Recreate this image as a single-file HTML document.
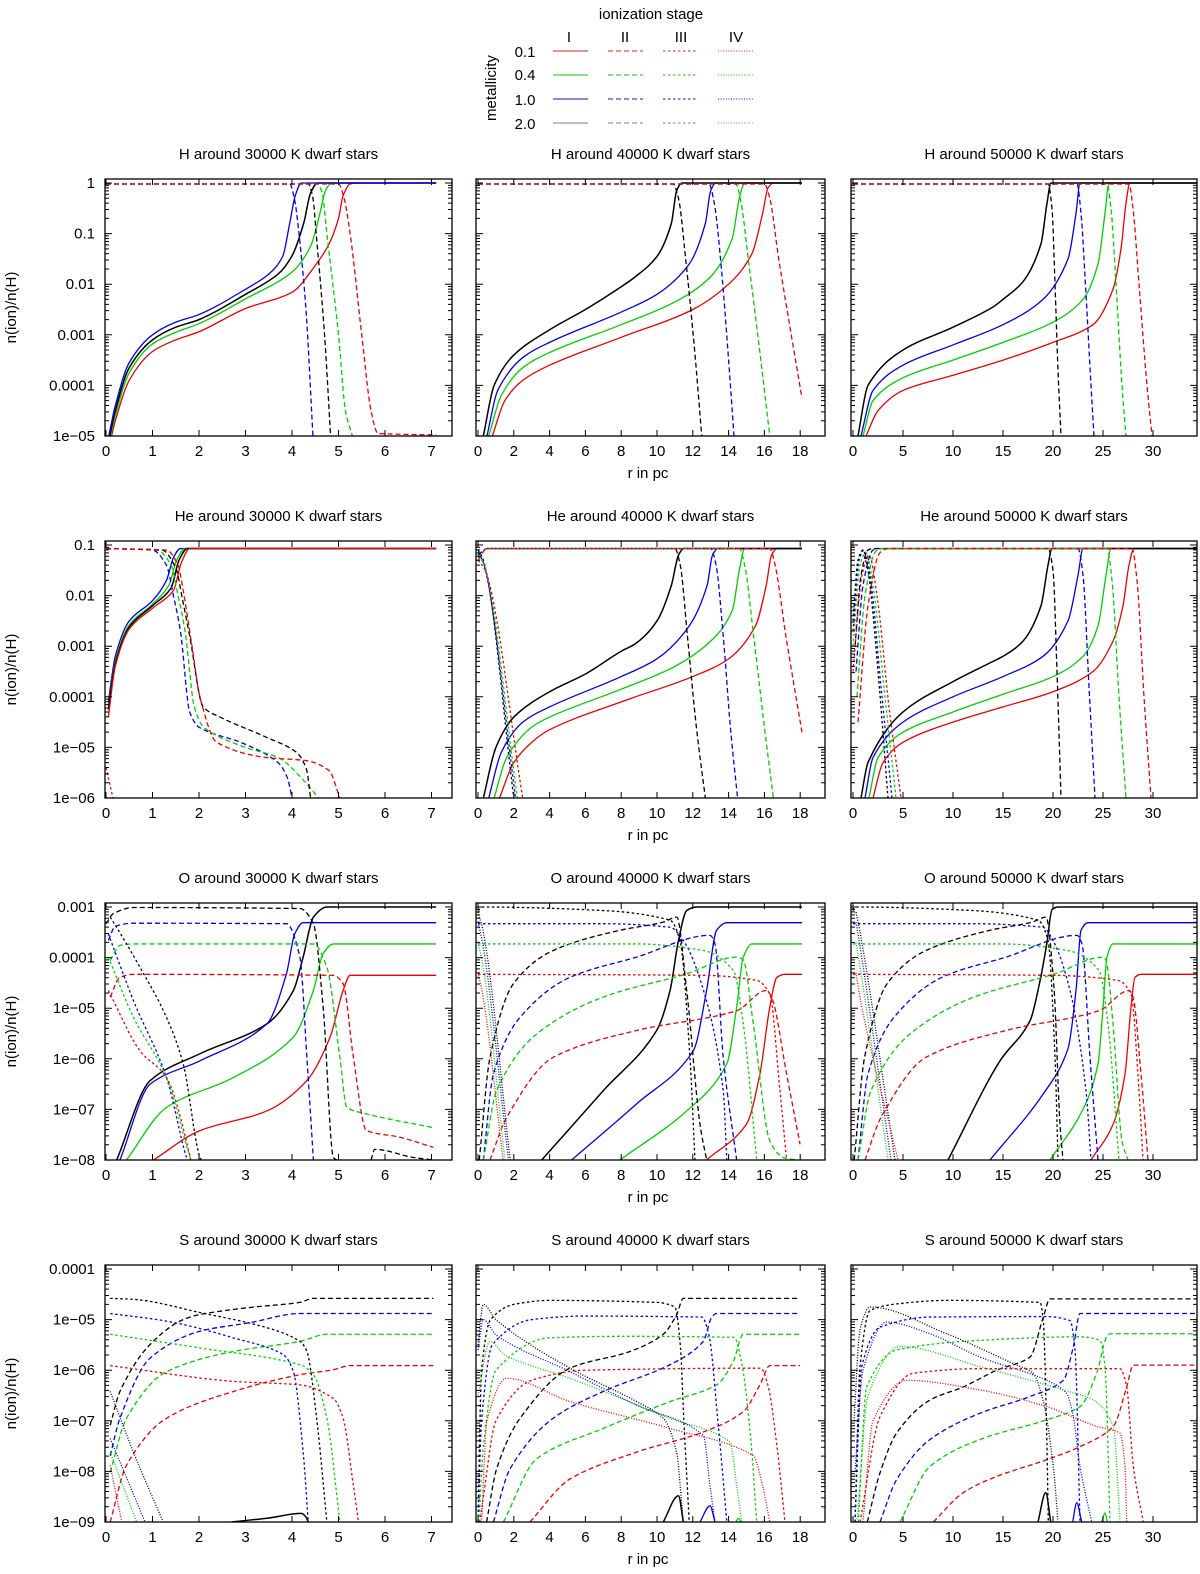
<!DOCTYPE html>
<html><head><meta charset="utf-8">
<style>
html,body{margin:0;padding:0;background:#fff;}
svg{display:block;font-family:"Liberation Sans",sans-serif;}
</style></head>
<body>
<svg id="fig" width="1200" height="1574" viewBox="0 0 1200 1574" xmlns="http://www.w3.org/2000/svg">
<g font-size="15" fill="#000">
  <text x="651" y="19" text-anchor="middle">ionization stage</text>
  <text x="569" y="42" text-anchor="middle">I</text>
  <text x="625" y="42" text-anchor="middle">II</text>
  <text x="681" y="42" text-anchor="middle">III</text>
  <text x="736" y="42" text-anchor="middle">IV</text>
  <text x="496" y="88" text-anchor="middle" transform="rotate(-90 496 88)">metallicity</text>
  <text x="525" y="57" text-anchor="middle">0.1</text>
  <text x="525" y="80" text-anchor="middle">0.4</text>
  <text x="525" y="105" text-anchor="middle">1.0</text>
  <text x="525" y="129" text-anchor="middle">2.0</text>
  <g id="legendLines"></g>
</g>
<g id="panels"></g>
</svg>
<script>
// ---------- data: series = [metallicityIndex(0:0.1,1:0.4,2:1.0,3:2.0), stage(1..4), [[r, log10 n]...]]
const H30 = [
 [0,1,[[0.12,-5],[0.2,-4.7],[0.5,-3.9],[1,-3.33],[1.5,-3.1],[2,-2.94],[3,-2.48],[4,-2.16],[4.5,-1.63],[4.8,-1.2],[5.0,-0.7],[5.1,-0.25],[5.25,-0.02],[5.4,0],[7.1,0]]],
 [1,1,[[0.1,-5],[0.2,-4.6],[0.5,-3.75],[1,-3.18],[1.5,-2.95],[2,-2.78],[3,-2.29],[4,-1.76],[4.4,-1.25],[4.6,-0.6],[4.72,-0.15],[4.85,0],[7.1,0]]],
 [3,1,[[0.08,-5],[0.2,-4.5],[0.5,-3.65],[1,-3.1],[1.5,-2.85],[2,-2.7],[3,-2.2],[3.7,-1.8],[4.0,-1.44],[4.25,-0.8],[4.4,-0.2],[4.55,0],[7.1,0]]],
 [2,1,[[0.06,-5],[0.2,-4.4],[0.5,-3.55],[1,-3.0],[1.5,-2.75],[2,-2.6],[3,-2.1],[3.5,-1.8],[3.8,-1.45],[3.95,-0.8],[4.07,-0.25],[4.2,0],[7.1,0]]],
 [2,2,[[0,-0.02],[3.95,-0.02],[4.05,-0.3],[4.15,-1.0],[4.3,-2.5],[4.45,-5]]],
 [3,2,[[0,-0.02],[4.35,-0.02],[4.45,-0.3],[4.52,-1],[4.7,-3],[4.83,-5]]],
 [1,2,[[0,-0.02],[4.55,-0.02],[4.65,-0.2],[4.75,-1],[5.0,-3],[5.15,-4.5],[5.3,-5]]],
 [0,2,[[0,-0.02],[5.0,-0.02],[5.12,-0.3],[5.25,-1],[5.5,-3],[5.7,-4.5],[5.85,-4.95],[7.1,-4.98]]]
];
const H40 = [
 [0,1,[[0.8,-5],[1.5,-4.3],[2.5,-3.9],[4,-3.6],[8,-3.05],[12,-2.5],[14,-2.0],[15.3,-1.4],[15.9,-0.6],[16.2,-0.1],[16.5,0],[18.1,0]]],
 [1,1,[[0.6,-5],[1.3,-4.2],[2.5,-3.65],[4,-3.35],[8,-2.8],[11,-2.35],[13,-1.85],[14.2,-1.1],[14.6,-0.3],[14.9,0],[18.1,0]]],
 [2,1,[[0.5,-5],[1.1,-4.1],[2.5,-3.45],[4,-3.15],[8,-2.55],[10,-2.2],[11.8,-1.6],[12.7,-0.8],[13.0,-0.15],[13.3,0],[18.1,0]]],
 [3,1,[[0.3,-5],[0.9,-4.0],[2,-3.4],[4,-2.9],[6,-2.5],[8,-2.05],[8.8,-1.85],[10,-1.45],[10.8,-0.8],[11.1,-0.15],[11.4,0],[18.1,0]]],
 [3,2,[[0,-0.02],[10.9,-0.02],[11.2,-0.3],[11.6,-1.5],[12.1,-3.3],[12.5,-5]]],
 [2,2,[[0,-0.02],[12.9,-0.02],[13.2,-0.4],[13.6,-1.7],[14.0,-3.5],[14.3,-5]]],
 [1,2,[[0,-0.02],[14.4,-0.02],[14.7,-0.4],[15.1,-1.5],[15.7,-3.2],[16.3,-5]]],
 [0,2,[[0,-0.02],[16.0,-0.02],[16.3,-0.3],[16.8,-1.5],[17.5,-3],[18.1,-4.25]]]
];
const H50 = [
 [0,1,[[1.3,-5],[2.5,-4.5],[5,-4.1],[10,-3.8],[15,-3.5],[20,-3.15],[24,-2.8],[26,-2.1],[26.8,-1.3],[27.3,-0.4],[27.7,0],[34.4,0]]],
 [1,1,[[1,-5],[2,-4.3],[5,-3.85],[10,-3.5],[15,-3.15],[20,-2.75],[23,-2.3],[24.5,-1.6],[25.2,-0.6],[25.6,0],[34.4,0]]],
 [2,1,[[0.8,-5],[2,-4.1],[5,-3.6],[10,-3.2],[15,-2.8],[19,-2.3],[21.5,-1.5],[22.3,-0.6],[22.7,0],[34.4,0]]],
 [3,1,[[0.5,-5],[1.5,-4.0],[5,-3.3],[10,-2.85],[14,-2.45],[15,-2.3],[17,-1.95],[18.8,-1.2],[19.4,-0.4],[19.8,0],[34.4,0]]],
 [3,2,[[0,-0.02],[19.5,-0.02],[19.9,-0.5],[20.2,-2],[20.5,-3.7],[20.8,-5]]],
 [2,2,[[0,-0.02],[22.4,-0.02],[22.8,-0.6],[23.3,-2.2],[23.8,-4],[24.1,-5]]],
 [1,2,[[0,-0.02],[25.4,-0.02],[25.8,-0.5],[26.3,-2],[26.9,-4],[27.3,-5]]],
 [0,2,[[0,-0.02],[27.6,-0.02],[28,-0.5],[28.6,-2],[29.4,-4],[29.9,-5]]]
];
const HE30 = [
 [2,1,[[0.05,-4.1],[0.2,-3.2],[0.5,-2.5],[1.0,-2.1],[1.3,-1.7],[1.45,-1.25],[1.6,-1.07],[7.1,-1.07]]],
 [1,1,[[0.05,-4.2],[0.2,-3.3],[0.5,-2.58],[1.0,-2.17],[1.35,-1.8],[1.52,-1.3],[1.7,-1.07],[7.1,-1.07]]],
 [3,1,[[0.05,-4.25],[0.2,-3.35],[0.5,-2.62],[1.0,-2.2],[1.4,-1.85],[1.57,-1.3],[1.75,-1.07],[7.1,-1.07]]],
 [0,1,[[0.05,-4.4],[0.2,-3.4],[0.5,-2.66],[1.0,-2.25],[1.45,-1.9],[1.62,-1.35],[1.8,-1.07],[7.1,-1.07]]],
 [2,2,[[0,-1.07],[1.0,-1.1],[1.3,-1.4],[1.45,-2.0],[1.6,-2.7],[1.8,-4.3],[2.0,-4.6],[2.95,-4.92],[3.7,-5.3],[3.9,-5.6],[4.0,-6]]],
 [1,2,[[0,-1.07],[1.1,-1.1],[1.4,-1.4],[1.55,-2.0],[1.7,-2.7],[1.9,-4.2],[2.1,-4.6],[3.0,-5.0],[3.7,-5.2],[4.3,-5.7],[4.57,-6]]],
 [3,2,[[0,-1.07],[1.2,-1.1],[1.5,-1.45],[1.65,-2.1],[1.8,-2.8],[2.09,-4.2],[2.45,-4.4],[3.45,-4.8],[4.1,-5.1],[4.31,-5.43],[4.4,-6]]],
 [0,2,[[0,-1.07],[1.3,-1.1],[1.55,-1.4],[1.66,-1.9],[1.85,-3.0],[2.02,-4.0],[2.38,-4.9],[3.45,-5.2],[4.3,-5.26],[4.8,-5.46],[5.03,-6]]],
 [0,3,[[0,-5.4],[0.15,-6]]]
];
const HE40 = [
 [0,1,[[1.2,-6],[2,-5.3],[3,-4.9],[4,-4.65],[8,-4.1],[12,-3.6],[14,-3.25],[15.5,-2.6],[16.1,-1.8],[16.4,-1.2],[16.7,-1.07],[18.1,-1.07]]],
 [1,1,[[0.9,-6],[1.6,-5.2],[3,-4.6],[4,-4.4],[8,-3.85],[11,-3.4],[13,-2.9],[14.2,-2.3],[14.6,-1.5],[14.9,-1.07],[18.1,-1.07]]],
 [2,1,[[0.6,-6],[1.3,-5.1],[2.5,-4.5],[4,-4.2],[8,-3.6],[10,-3.25],[11.8,-2.6],[12.8,-1.8],[13.1,-1.2],[13.4,-1.07],[18.1,-1.07]]],
 [3,1,[[0.3,-6],[1,-5],[2,-4.4],[4,-3.9],[6,-3.55],[8,-3.1],[8.8,-2.95],[10,-2.5],[10.8,-1.8],[11.2,-1.2],[11.5,-1.07],[18.1,-1.07]]],
 [3,2,[[0,-1.2],[0.5,-1.07],[11,-1.07],[11.3,-1.4],[11.7,-2.8],[12.2,-4.6],[12.7,-6]]],
 [2,2,[[0,-1.2],[0.5,-1.07],[13,-1.07],[13.3,-1.4],[13.7,-2.8],[14.1,-4.6],[14.5,-6]]],
 [1,2,[[0,-1.25],[0.5,-1.07],[14.6,-1.07],[14.9,-1.4],[15.4,-2.8],[16.0,-4.6],[16.5,-6]]],
 [0,2,[[0,-1.3],[0.5,-1.07],[16.3,-1.07],[16.6,-1.4],[17.2,-2.8],[18.1,-4.7]]],
 [3,3,[[0,-1.1],[0.3,-1.3],[2.0,-6]]],
 [2,3,[[0,-1.15],[0.3,-1.35],[2.1,-6]]],
 [1,3,[[0,-1.2],[0.35,-1.4],[2.2,-6]]],
 [0,3,[[0,-1.3],[0.4,-1.5],[2.5,-6]]]
];
const HE50 = [
 [0,1,[[2,-6],[3,-5.3],[5,-4.9],[10,-4.5],[15,-4.2],[20,-3.9],[24,-3.5],[26,-2.9],[27,-2.2],[27.6,-1.4],[28.1,-1.07],[34.4,-1.07]]],
 [1,1,[[1.6,-6],[2.5,-5.2],[5,-4.7],[10,-4.3],[15,-3.95],[20,-3.6],[23,-3.2],[24.5,-2.6],[25.3,-1.6],[25.8,-1.07],[34.4,-1.07]]],
 [2,1,[[1.2,-6],[2,-5.2],[5,-4.5],[10,-4.0],[15,-3.6],[19,-3.2],[21.5,-2.5],[22.5,-1.6],[23,-1.07],[34.4,-1.07]]],
 [3,1,[[0.8,-6],[1.5,-5.3],[5,-4.3],[10,-3.7],[14,-3.3],[15,-3.2],[17,-2.9],[18.8,-2.2],[19.5,-1.4],[19.9,-1.07],[34.4,-1.07]]],
 [3,2,[[0.2,-3],[0.8,-1.6],[1.5,-1.1],[2,-1.07],[19.5,-1.07],[20,-1.5],[20.4,-3.5],[20.8,-6]]],
 [2,2,[[0.3,-3.5],[1,-1.8],[2,-1.1],[2.5,-1.07],[22.5,-1.07],[23,-1.6],[23.6,-3.8],[24.2,-6]]],
 [1,2,[[0.4,-4],[1.2,-2],[2.3,-1.12],[3,-1.07],[25.4,-1.07],[25.9,-1.7],[26.6,-4],[27.3,-6]]],
 [0,2,[[0.5,-4.5],[1.5,-2.2],[2.7,-1.15],[3.5,-1.07],[27.9,-1.07],[28.4,-1.7],[29.1,-4],[29.8,-6]]],
 [3,3,[[0,-2.5],[0.5,-1.3],[1,-1.1],[1.5,-1.5],[2.5,-3.5],[3.5,-6]]],
 [2,3,[[0,-2.7],[0.6,-1.3],[1.1,-1.1],[1.7,-1.6],[2.8,-3.8],[3.9,-6]]],
 [1,3,[[0,-3],[0.7,-1.4],[1.3,-1.15],[2,-1.8],[3.2,-4],[4.3,-6]]],
 [0,3,[[0,-3.5],[0.9,-1.6],[1.6,-1.2],[2.4,-2],[3.6,-4.2],[4.8,-6]]]
];
const O30 = [
 [3,1,[[0.23,-8],[0.95,-6.43],[2.02,-5.9],[3.46,-5.31],[4.03,-4.65],[4.24,-3.99],[4.46,-3.2],[4.75,-3.0],[7.1,-3.0]]],
 [2,1,[[0.3,-8],[0.95,-6.5],[2.02,-6.04],[3.46,-5.31],[3.88,-4.32],[4.06,-3.53],[4.24,-3.31],[7.1,-3.31]]],
 [1,1,[[0.44,-8],[1.3,-6.96],[2.74,-6.37],[4.03,-5.57],[4.46,-4.65],[4.67,-3.92],[4.89,-3.73],[7.1,-3.73]]],
 [0,1,[[1.02,-8],[2.02,-7.42],[3.46,-7.03],[4.32,-6.43],[4.82,-5.57],[5.1,-4.65],[5.25,-4.35],[7.1,-4.35]]],
 [3,2,[[0,-3.33],[0.16,-3.13],[0.59,-3.01],[4.17,-3.03],[4.46,-3.33],[4.67,-4.98],[4.89,-7.95],[4.96,-8]]],
 [3,2,[[5.7,-8],[5.78,-7.79],[6.61,-7.95],[7.04,-8]]],
 [2,2,[[0.05,-3.66],[0.2,-3.38],[0.59,-3.32],[3.88,-3.33],[4.17,-3.99],[4.32,-5.97],[4.46,-8]]],
 [1,2,[[0.09,-4.06],[0.3,-3.76],[0.59,-3.73],[4.46,-3.73],[4.75,-4.19],[5.03,-5.97],[5.18,-6.96],[5.6,-7.09],[7.04,-7.36]]],
 [0,2,[[0.09,-4.78],[0.3,-4.39],[0.59,-4.33],[4.89,-4.35],[5.1,-4.52],[5.32,-5.97],[5.6,-7.42],[6.32,-7.55],[7.04,-7.75]]],
 [3,3,[[0.09,-3.2],[0.16,-3.3],[0.73,-4.19],[1.3,-5.18],[1.66,-6.1],[2.02,-7.95],[2.05,-8]]],
 [2,3,[[0.05,-3.53],[0.59,-4.85],[1.3,-6.37],[1.73,-7.95],[1.75,-8]]],
 [1,3,[[0.05,-3.99],[0.59,-5.18],[1.3,-6.37],[1.81,-7.95],[1.83,-8]]],
 [0,3,[[0.05,-4.65],[0.73,-5.84],[1.3,-6.37],[1.8,-7.9],[1.82,-8]]]
];
const O40 = [
 [3,1,[[3.56,-8],[7.0,-6.63],[9.98,-5.44],[10.73,-4.65],[11.2,-3.66],[11.66,-3.07],[12.2,-3],[18.1,-3]]],
 [2,1,[[5.23,-8],[8.86,-6.89],[12.03,-5.84],[12.77,-4.65],[13.33,-3.46],[13.9,-3.31],[18.1,-3.31]]],
 [1,1,[[7.93,-8],[11.66,-7.03],[13.9,-6.1],[14.45,-4.98],[14.82,-3.99],[15.3,-3.73],[18.1,-3.73]]],
 [0,1,[[12.77,-8],[15.0,-7.29],[15.75,-6.3],[16.3,-4.98],[16.7,-4.39],[17.15,-4.33],[18.1,-4.33]]],
 [3,2,[[0.07,-8],[0.67,-5.97],[1.97,-4.52],[4.2,-3.86],[7.93,-3.46],[10.35,-3.3],[11.1,-3.2],[11.66,-4.65],[12.4,-7.29],[12.77,-8]]],
 [2,2,[[0.3,-8],[0.86,-6.3],[2.35,-5.18],[5.14,-4.39],[8.86,-3.99],[12.96,-3.56],[13.24,-3.73],[13.7,-5.97],[14.45,-8]]],
 [1,2,[[0.3,-8],[1.04,-6.63],[3.28,-5.51],[7.0,-4.78],[11.66,-4.32],[14.45,-3.99],[14.82,-4.05],[15.38,-5.31],[16.3,-7.62],[17.05,-7.95],[17.8,-8]]],
 [0,2,[[0.67,-8],[1.6,-7.16],[4.2,-5.97],[8.86,-5.44],[14.45,-5.05],[16.1,-4.65],[16.4,-4.78],[17.24,-6.3],[17.99,-7.69]]],
 [3,3,[[0,-3.07],[0.3,-3.0],[7.0,-3.07],[10.73,-3.26],[11.28,-3.66],[11.84,-5.97],[12.12,-8]]],
 [2,3,[[0,-3.33],[7.0,-3.33],[10.73,-3.4],[11.47,-3.66],[12.6,-4.65],[13.7,-6.63],[13.9,-8]]],
 [1,3,[[0,-3.73],[8.86,-3.73],[12.6,-3.86],[14.26,-4.25],[14.82,-5.31],[15.57,-8]]],
 [0,3,[[0,-4.33],[12.6,-4.35],[15.57,-4.45],[16.3,-4.72],[16.87,-6.63],[17.24,-8]]],
 [3,4,[[0,-3.1],[0.3,-3.5],[1.8,-8]]],
 [2,4,[[0,-3.3],[0.3,-3.8],[1.7,-8]]],
 [1,4,[[0,-3.7],[0.3,-4.2],[1.5,-8]]],
 [0,4,[[0,-4.3],[0.3,-4.8],[1.4,-8]]]
];
const O50 = [
 [3,1,[[9.5,-8],[14.7,-6.04],[17.7,-5.25],[18.7,-4.46],[19.4,-3.7],[19.9,-3.05],[20.5,-3],[34.4,-3]]],
 [2,1,[[13.7,-8],[19,-6.7],[21.5,-5.8],[22.3,-4.65],[22.8,-3.46],[23.5,-3.31],[34.4,-3.31]]],
 [1,1,[[19.7,-8],[23,-7],[24.5,-6.1],[25,-5],[25.4,-3.99],[26,-3.73],[34.4,-3.73]]],
 [0,1,[[23.8,-8],[26,-7.3],[27.2,-6.3],[27.8,-4.98],[28.2,-4.39],[28.8,-4.33],[34.4,-4.33]]],
 [3,2,[[0.12,-8],[1.16,-5.97],[3.4,-4.52],[7.3,-3.86],[13.7,-3.46],[17.9,-3.3],[19.3,-3.2],[20.1,-4.6],[20.7,-7.3],[21.0,-8]]],
 [2,2,[[0.5,-8],[1.5,-6.3],[4.1,-5.18],[8.9,-4.39],[15.3,-3.99],[22.4,-3.56],[22.9,-3.73],[23.7,-5.97],[24.5,-8]]],
 [1,2,[[0.5,-8],[1.8,-6.63],[5.7,-5.51],[12.1,-4.78],[20.2,-4.32],[25.0,-3.99],[25.3,-4.05],[26.0,-5.31],[26.9,-7.62],[27.5,-8]]],
 [0,2,[[1.2,-8],[2.8,-7.16],[7.3,-5.97],[15.3,-5.44],[24.6,-5.05],[27.6,-4.65],[28.0,-4.78],[28.8,-6.3],[29.5,-8]]],
 [3,3,[[0,-3.07],[0.3,-3.0],[12,-3.07],[18.5,-3.26],[19.5,-3.66],[20.2,-5.97],[20.5,-8]]],
 [2,3,[[0,-3.33],[12,-3.33],[19,-3.4],[20,-3.66],[21.7,-4.65],[23.3,-6.63],[23.8,-8]]],
 [1,3,[[0,-3.73],[15,-3.73],[21.5,-3.86],[24.6,-4.25],[25.5,-5.31],[26.6,-8]]],
 [0,3,[[0,-4.33],[20,-4.35],[26.5,-4.45],[27.8,-4.72],[28.6,-6.63],[29.0,-8]]],
 [3,4,[[0.3,-3.1],[0.8,-3.6],[4.2,-8]]],
 [2,4,[[0.3,-3.3],[0.8,-3.9],[3.8,-8]]],
 [1,4,[[0.3,-3.7],[0.8,-4.3],[3.5,-8]]],
 [0,4,[[0.3,-4.3],[0.8,-4.9],[4.5,-8]]]
];
const S30 = [
 [3,2,[[0.09,-7.09],[0.3,-6.42],[0.95,-5.49],[1.66,-5.0],[2.02,-4.9],[3.1,-4.76],[4.17,-4.66],[4.46,-4.58],[7.04,-4.58]]],
 [2,2,[[0.09,-7.69],[0.3,-6.95],[0.95,-5.76],[2.02,-5.23],[3.1,-5.06],[4.17,-4.88],[7.04,-4.88]]],
 [1,2,[[0.09,-8.02],[0.44,-6.95],[1.3,-6.03],[2.74,-5.63],[4.17,-5.43],[4.75,-5.29],[7.04,-5.29]]],
 [0,2,[[0.09,-9],[0.44,-7.88],[1.3,-6.95],[2.74,-6.42],[4.17,-6.09],[4.89,-5.99],[5.25,-5.91],[7.04,-5.91]]],
 [3,3,[[0.09,-4.58],[0.6,-4.6],[2.02,-4.86],[3.46,-5.16],[4.17,-5.43],[4.32,-5.63],[4.53,-6.95],[4.75,-9]]],
 [2,3,[[0.09,-4.88],[1.3,-5.03],[2.74,-5.36],[3.81,-5.69],[4.03,-6.03],[4.24,-7.62],[4.35,-9]]],
 [1,3,[[0.09,-5.29],[2.02,-5.56],[4.17,-5.89],[4.46,-6.09],[4.75,-6.95],[5.03,-9]]],
 [0,3,[[0.09,-5.91],[2.74,-6.22],[4.17,-6.29],[4.89,-6.56],[5.1,-6.95],[5.32,-8.28],[5.43,-9]]],
 [3,4,[[0.09,-6.42],[0.59,-7.62],[1.23,-9]]],
 [2,4,[[0.09,-7.35],[0.84,-9]]],
 [1,4,[[0.09,-7.62],[0.66,-9]]],
 [0,4,[[0.09,-7.88],[0.34,-9]]],
 [3,1,[[2.7,-9],[3.5,-8.92],[4.2,-8.83],[4.3,-8.9],[4.35,-9]]]
];
const S40 = [
 [3,2,[[0.48,-9],[1.04,-7.95],[2.35,-6.95],[5.14,-5.96],[8.49,-5.63],[10.35,-5.29],[11.1,-4.9],[11.47,-4.58],[17.99,-4.58]]],
 [2,2,[[0.86,-9],[1.79,-7.95],[4.2,-6.95],[7.0,-6.42],[10.73,-5.89],[12.59,-5.43],[13.05,-4.96],[13.33,-4.88],[17.99,-4.88]]],
 [1,2,[[1.42,-9],[3.28,-7.75],[7.0,-7.15],[10.73,-6.62],[13.33,-6.29],[14.26,-5.83],[14.82,-5.29],[17.99,-5.29]]],
 [0,2,[[2.9,-9],[5.14,-8.15],[8.86,-7.62],[12.59,-7.22],[14.82,-6.82],[15.75,-6.29],[16.31,-5.91],[17.99,-5.91]]],
 [3,3,[[0,-9],[0.2,-6],[0.7,-5],[2,-4.7],[4,-4.62],[10,-4.66],[11,-4.75],[11.3,-5.5],[11.5,-7],[11.8,-9]]],
 [2,3,[[0,-9],[0.2,-7],[0.8,-5.5],[3,-5.0],[6,-4.93],[12.5,-4.95],[12.9,-5.3],[13.4,-7],[13.9,-9]]],
 [1,3,[[0.05,-9],[0.3,-7.5],[1,-6],[4,-5.36],[8,-5.33],[14.3,-5.35],[14.7,-5.8],[15.2,-7.2],[15.57,-9]]],
 [0,3,[[0.1,-9],[0.3,-8.5],[1,-7],[3,-6.2],[6,-6],[15.8,-5.96],[16.2,-6.3],[16.7,-7.5],[17.15,-9]]],
 [3,4,[[0,-5.5],[0.3,-4.7],[1,-5.0],[5.14,-5.96],[8.86,-6.62],[10.35,-6.95],[11.1,-7.62],[11.3,-8.3],[11.47,-9]]],
 [2,4,[[0,-5.6],[0.3,-5.0],[1,-5.3],[5.14,-6.03],[8.86,-6.69],[12.59,-7.29],[12.96,-8.28],[13.24,-9]]],
 [1,4,[[0,-6.5],[0.67,-5.43],[1.5,-5.7],[5.14,-6.16],[10.73,-6.95],[14.08,-7.42],[14.45,-8.28],[14.73,-9]]],
 [0,4,[[0.2,-9],[0.5,-7],[1.6,-6.16],[5.14,-6.62],[10.73,-7.15],[15.38,-7.69],[15.9,-8.28],[16.3,-9]]],
 [3,1,[[10.35,-9],[11.2,-8.48],[11.47,-9]]],
 [2,1,[[12.4,-9],[12.96,-8.68],[13.24,-9]]],
 [1,1,[[14.4,-9],[14.55,-8.93],[14.7,-9]]]
];
const S50 = [
 [3,2,[[1.43,-9],[2.7,-8.03],[4.37,-7.24],[7.7,-6.59],[11.03,-6.33],[14.37,-6.0],[17.7,-5.74],[19.03,-4.95],[19.7,-4.59],[34.4,-4.59]]],
 [2,2,[[2.7,-9],[4.37,-8.16],[7.7,-7.37],[12.7,-6.85],[17.7,-6.52],[21.03,-6.2],[22.03,-5.54],[22.7,-4.88],[34.4,-4.88]]],
 [1,2,[[4.7,-9],[7.7,-7.9],[12.7,-7.37],[19.37,-6.98],[22.7,-6.72],[24.37,-6.06],[25.37,-5.34],[25.7,-5.28],[34.4,-5.28]]],
 [0,2,[[8.03,-9],[11.03,-8.42],[14.37,-8.1],[19.37,-7.77],[22.7,-7.51],[26.03,-7.11],[27.37,-6.33],[28.03,-5.9],[34.4,-5.9]]],
 [3,3,[[0.2,-9],[0.7,-5.93],[1.7,-4.82],[4.37,-4.69],[9.37,-4.62],[18.7,-4.66],[19.03,-5.02],[19.37,-7.24],[19.53,-9]]],
 [3,4,[[0.1,-7],[0.7,-5.2],[1.7,-4.75],[9.37,-5.28],[16,-5.87],[18,-6.06],[19,-6.59],[20.03,-7.9],[20.5,-9]]],
 [2,3,[[0.2,-9],[0.87,-5.93],[2.7,-5.15],[7.7,-4.95],[19.37,-4.94],[21.7,-5.02],[22.2,-5.6],[22.7,-9]]],
 [2,4,[[0.2,-8],[1,-6],[3.37,-5.05],[7.7,-5.28],[12.7,-5.74],[19.37,-6.2],[21.37,-6.46],[22.03,-6.92],[22.7,-7.9],[23.87,-9]]],
 [1,3,[[0.53,-9],[1.37,-6.33],[4.37,-5.6],[12.7,-5.41],[22.7,-5.34],[24.7,-5.41],[25.2,-5.93],[25.7,-9]]],
 [1,4,[[0.4,-9],[1.5,-6.5],[4.7,-5.53],[12.7,-5.93],[21.03,-6.39],[24.03,-6.59],[26.03,-7.11],[26.7,-9]]],
 [0,3,[[0.7,-9],[2.7,-6.92],[6.03,-6.06],[12.7,-5.97],[26.7,-5.97],[27.37,-6.33],[28.03,-7.9],[29.03,-9]]],
 [0,4,[[1,-9],[2,-7],[5.37,-6.2],[12.7,-6.39],[19.37,-6.72],[24.37,-7.11],[26.7,-7.24],[27.2,-7.9],[27.37,-9]]],
 [3,1,[[18.5,-9],[19.27,-8.42],[19.77,-9]]],
 [2,1,[[21.97,-9],[22.37,-8.62],[22.87,-9]]],
 [1,1,[[24.87,-9],[25.2,-8.82],[25.43,-9]]]
];

// ---------- axes / labels
const xTicks0 = [0,1,2,3,4,5,6,7];
const xTicks1 = [0,2,4,6,8,10,12,14,16,18];
const xTicks2 = [0,5,10,15,20,25,30];
const yLabelsH  = ['1','0.1','0.01','0.001','0.0001','1e\u221205'];
const yLabelsHe = ['0.1','0.01','0.001','0.0001','1e\u221205','1e\u221206'];
const yLabelsO  = ['0.001','0.0001','1e\u221205','1e\u221206','1e\u221207','1e\u221208'];
const yLabelsS  = ['0.0001','1e\u221205','1e\u221206','1e\u221207','1e\u221208','1e\u221209'];
const rowTopDecade = [0,-1,-3,-4];
const elements = ['H','He','O','S'];
const temps = ['30000','40000','50000'];

const COLS = [
 {left:105, x0:106, ppu:46.5, right:452, ticks:xTicks0},
 {left:476, x0:478, ppu:17.9, right:825, ticks:xTicks1},
 {left:851, x0:853, ppu:10.0, right:1197, ticks:xTicks2}
];
const ROW_TOP = [179,541,903,1265];
const ROW_H = 257, DEC = 50.6;
const COLORS = ['#ee0000','#00d000','#0000ee','#000000'];
const DASH = [null,'none','5,3','2.5,2.5','1,1.6'];
const panelData = [[H30,H40,H50],[HE30,HE40,HE50],[O30,O40,O50],[S30,S40,S50]];
const yLabelSets = [yLabelsH,yLabelsHe,yLabelsO,yLabelsS];

const NS = 'http://www.w3.org/2000/svg';
function mk(tag, attrs, parent){
  const e = document.createElementNS(NS, tag);
  for (const k in attrs) e.setAttribute(k, attrs[k]);
  parent.appendChild(e);
  return e;
}

// legend lines
const lg = document.getElementById('legendLines');
const legendX = [553,608,663,718];
const legendY = [51,75,99,123];
const legendColors = ['#e05050','#40d040','#4040d0','#999999'];
for (let m=0;m<4;m++){
  for (let s=1;s<=4;s++){
    const l = mk('line',{x1:legendX[s-1],x2:legendX[s-1]+35,y1:legendY[m],y2:legendY[m],stroke:legendColors[m],'stroke-width':1.2},lg);
    if (s>1) l.setAttribute('stroke-dasharray', DASH[s]);
    
    
  }
}

function monoPath(pts, X, Y){
  const n = pts.length;
  let d = 'M'+X(pts[0][0]).toFixed(2)+','+Y(pts[0][1]).toFixed(2);
  if (n<3){ for(let i=1;i<n;i++) d+=' L'+X(pts[i][0]).toFixed(2)+','+Y(pts[i][1]).toFixed(2); return d; }
  const m=[], t=[];
  for (let i=0;i<n-1;i++){ const dx=pts[i+1][0]-pts[i][0]; m.push(dx>0?(pts[i+1][1]-pts[i][1])/dx:0); }
  t.push(m[0]);
  for (let i=1;i<n-1;i++){ t.push(m[i-1]*m[i]>0 ? 2/(1/m[i-1]+1/m[i]) : 0); }
  t.push(m[n-2]);
  for (let i=0;i<n-1;i++){
    const [x0,y0]=pts[i],[x1,y1]=pts[i+1]; const h=(x1-x0)/3;
    d+=' C'+X(x0+h).toFixed(2)+','+Y(y0+t[i]*h).toFixed(2)+' '+X(x1-h).toFixed(2)+','+Y(y1-t[i+1]*h).toFixed(2)+' '+X(x1).toFixed(2)+','+Y(y1).toFixed(2);
  }
  return d;
}

const root = document.getElementById('panels');
for (let row=0; row<4; row++){
  for (let col=0; col<3; col++){
    const C = COLS[col], top = ROW_TOP[row], bot = top+ROW_H, td = rowTopDecade[row];
    const X = r => C.x0 + r*C.ppu;
    const Y = v => top + 4 + (td - v)*DEC;
    const g = mk('g',{},root);
    
    
    const title = mk('text',{x:(C.left+C.right)/2,y:top-20,'text-anchor':'middle','font-size':15},g);
    title.textContent = elements[row]+' around '+temps[col]+' K dwarf stars';
    
    
    const cid = 'clip'+row+col;
    const cp = mk('clipPath',{id:cid},g);
    mk('rect',{x:C.left,y:top,width:C.right-C.left,height:ROW_H},cp);
    // series
    const sg = mk('g',{'clip-path':'url(#'+cid+')',fill:'none'},g);
    for (const s of panelData[row][col]){
      const p = mk('path',{d:monoPath(s[2],X,Y),stroke:COLORS[s[0]],'stroke-width':s[0]===3&&s[1]===1?1.5:1.3},sg);
      if (s[1]>1) p.setAttribute('stroke-dasharray', DASH[s[1]]);
      
      
    }
    // frame
    const fr = mk('rect',{x:C.left,y:top,width:C.right-C.left,height:ROW_H,fill:'none',stroke:'#000','stroke-width':1.3},g);
    
    
    // ticks
    let tk = '';
    for (const v of C.ticks){
      const x = X(v);
      tk += 'M'+x+','+bot+'v-6M'+x+','+top+'v6';
      const tl = mk('text',{x:x,y:bot+20,'text-anchor':'middle','font-size':15},g);
      tl.textContent = v;
      
      
    }
    const labels = yLabelSets[row];
    for (let k=0;k<6;k++){
      const dv = td-k, y = Y(dv);
      tk += 'M'+C.left+','+y+'h7M'+C.right+','+y+'h-7';
      if (k<5){ for (let j=2;j<=9;j++){ const ym=Y(dv-1+Math.log10(j)); tk+='M'+C.left+','+ym+'h4M'+C.right+','+ym+'h-4'; } }
      if (col===0){
        const yl = mk('text',{x:95,y:y+5,'text-anchor':'end','font-size':15},g);
        yl.textContent = labels[k];
        
        
      }
    }
    const tp = mk('path',{d:tk,stroke:'#000','stroke-width':1,fill:'none'},g);
    
    
    if (col===0){
      const cy = (top+bot)/2;
      const ya = mk('text',{x:16,y:cy,'text-anchor':'middle','font-size':15,transform:'rotate(-90 16 '+cy+')'},g);
      ya.textContent = 'n(ion)/n(H)';
      
      
    }
    if (col===1){
      const xa = mk('text',{x:648,y:bot+42,'text-anchor':'middle','font-size':15},g);
      xa.textContent = 'r in pc';
      
      
    }
  }
}
</script>
</body></html>
